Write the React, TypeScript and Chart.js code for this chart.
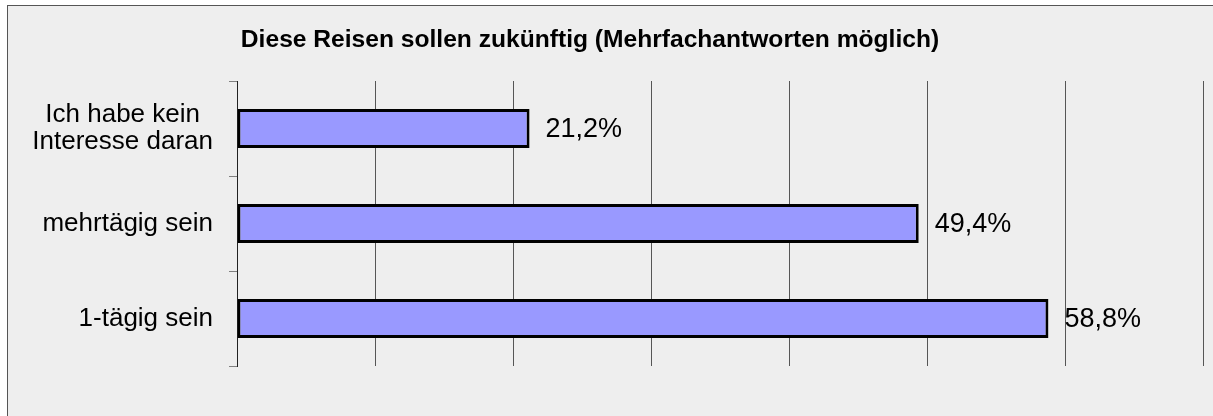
import React, { useEffect, useRef } from "react";
import { Chart, registerables } from "chart.js";
Chart.register(...registerables);

const categories: string[][] = [["Ich habe kein", "Interesse daran"], ["mehrtägig sein"], ["1-tägig sein"]];
const values: number[] = [21.2, 49.4, 58.8];
const xMin = 0;
const xMax = 70;
const xStep = 10;
const title = "Diese Reisen sollen zukünftig (Mehrfachantworten möglich)";
const FONT = '"Liberation Sans", Arial, sans-serif';

export default function App() {
  const ref = useRef<HTMLCanvasElement>(null);
  useEffect(() => {
    if (!ref.current) return;
    const textPlugin = {
      id: "texts",
      afterDraw(chart: any) {
        const ctx = chart.ctx as CanvasRenderingContext2D;
        ctx.save();
        ctx.fillStyle = "#000";
        ctx.textBaseline = "middle";
        ctx.font = `bold 24.6px ${FONT}`;
        ctx.textAlign = "center";
        ctx.fillText(title, 582, 34);
        const y = chart.scales.y;
        ctx.font = `26px ${FONT}`;
        categories.forEach((lines, i) => {
          const cy = y.getPixelForValue(i);
          const widths = lines.map((l) => ctx.measureText(l).width);
          const W = Math.max(...widths);
          const cx = y.right - 24 - W / 2;
          const lh = 27;
          lines.forEach((l, j) => {
            ctx.fillText(l, cx, cy + (j - (lines.length - 1) / 2) * lh);
          });
        });
        ctx.font = `27px ${FONT}`;
        ctx.textAlign = "left";
        const meta = chart.getDatasetMeta(0);
        meta.data.forEach((bar: any, i: number) => {
          ctx.fillText(values[i].toFixed(1).replace(".", ",") + "%", bar.x + 16, bar.y + 1);
        });
        ctx.restore();
      },
    };
    const chart = new Chart(ref.current, {
      type: "bar",
      data: {
        labels: categories.map((c) => c.join(" ")),
        datasets: [
          {
            data: values,
            backgroundColor: "#9999ff",
            borderColor: "#000000",
            borderWidth: 3,
            borderSkipped: false,
            barPercentage: 0.41,
            categoryPercentage: 1,
          },
        ],
      },
      options: {
        indexAxis: "y",
        animation: false,
        responsive: false,
        devicePixelRatio: 1,
        layout: { padding: { top: 75, right: 10, left: 0, bottom: 0 } },
        plugins: { legend: { display: false }, tooltip: { enabled: false }, title: { display: false } },
        scales: {
          x: {
            min: xMin,
            max: xMax,
            ticks: { stepSize: xStep, display: false },
            grid: { color: "#555555", lineWidth: 1, drawTicks: false },
            border: { display: false },
            afterFit: (s: any) => {
              s.height = 50;
            },
          },
          y: {
            position: "left",
            ticks: { display: false },
            grid: { offset: true, drawOnChartArea: false, drawTicks: true, tickLength: 8, color: "#808080" },
            border: { display: true, color: "#222222", width: 1 },
            afterFit: (s: any) => {
              s.width = 229;
            },
          },
        },
      },
      plugins: [textPlugin],
    } as any);
    return () => chart.destroy();
  }, []);
  return (
    <div
      style={{
        position: "absolute",
        left: 7,
        top: 5,
        width: 1210,
        height: 415,
        border: "1px solid #555555",
        background: "#eeeeee",
        boxSizing: "content-box",
      }}
    >
      <canvas ref={ref} width={1205} height={410} style={{ display: "block", width: 1205, height: 410 }} />
    </div>
  );
}
